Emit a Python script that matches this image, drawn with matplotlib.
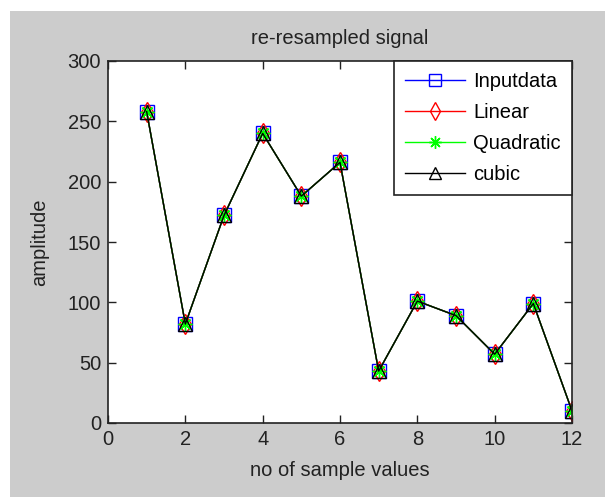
import matplotlib
matplotlib.use("Agg")
import matplotlib.pyplot as plt

plt.rcParams['font.family'] = ['Liberation Sans', 'DejaVu Sans']

x = [1, 2, 3, 4, 5, 6, 7, 8, 9, 10, 11, 12]
input_data = [258, 82, 172, 240, 188, 216, 43, 101, 89, 57, 99, 10]
linear = [258, 82, 172, 240, 188, 216, 43, 101, 89, 57, 99, 10]
quadratic = [258, 82, 172, 240, 188, 216, 43, 101, 89, 57, 99, 10]
cubic = [258, 82, 172, 240, 188, 216, 43, 101, 89, 57, 99, 10]
labels = ['Inputdata', 'Linear', 'Quadratic', 'cubic']

W, H = 605, 497
fig = plt.figure(figsize=(W / 100, H / 100), dpi=100)
fig.patch.set_facecolor('white')
# gray MATLAB figure background (screenshot has white strip top/left)
fig.patches.append(plt.Rectangle((10 / W, 0), 1, 1 - 11 / H, transform=fig.transFigure,
                                 facecolor='#cccccc', edgecolor='none', zorder=-10))

left, right, top, bottom = 108, 572, 61, 423
ax = fig.add_axes([left / W, 1 - bottom / H, (right - left) / W, (bottom - top) / H])
ax.set_facecolor('white')

fs = 14.5
ms = 10
ax.plot(x, input_data, color='blue', lw=1.0, marker='s', ms=ms, mfc='none', mec='blue', mew=1.0, label=labels[0])
ax.plot(x, linear, color='red', lw=1.0, marker='d', ms=ms, mfc='none', mec='red', mew=1.0, label=labels[1])
ax.plot(x, quadratic, color='#00ff00', lw=1.0, marker=(8, 2, 0), ms=ms, mec='#00ff00', mew=1.0, label=labels[2])
ax.plot(x, cubic, color='black', lw=1.0, marker='^', ms=ms, mfc='none', mec='black', mew=1.0, label=labels[3])

ax.set_xlim(0, 12)
ax.set_ylim(0, 300)
ax.set_xticks([0, 2, 4, 6, 8, 10, 12])
ax.set_yticks([0, 50, 100, 150, 200, 250, 300])
ax.tick_params(direction='in', top=True, right=True, length=6, width=1, labelsize=fs, pad=5,
               colors='#222222')
for s in ax.spines.values():
    s.set_linewidth(1.2)
    s.set_color('#222222')

ax.set_title('re-resampled signal', fontsize=fs, color='#222222', pad=12)
ax.set_xlabel('no of sample values', fontsize=fs, color='#222222', labelpad=9)
ax.set_ylabel('amplitude', fontsize=fs, color='#222222', labelpad=13)

leg = ax.legend(loc='upper right', bbox_to_anchor=(1, 1), borderaxespad=0, fontsize=fs,
                frameon=True, fancybox=False, handlelength=3.0, handletextpad=0.4,
                labelspacing=0.6, borderpad=0.55, markerscale=0.9)
leg.get_frame().set_edgecolor('#222222')
leg.get_frame().set_linewidth(1.2)
leg.get_frame().set_alpha(1)

fig.savefig('out.png', dpi=100, facecolor=fig.get_facecolor())
